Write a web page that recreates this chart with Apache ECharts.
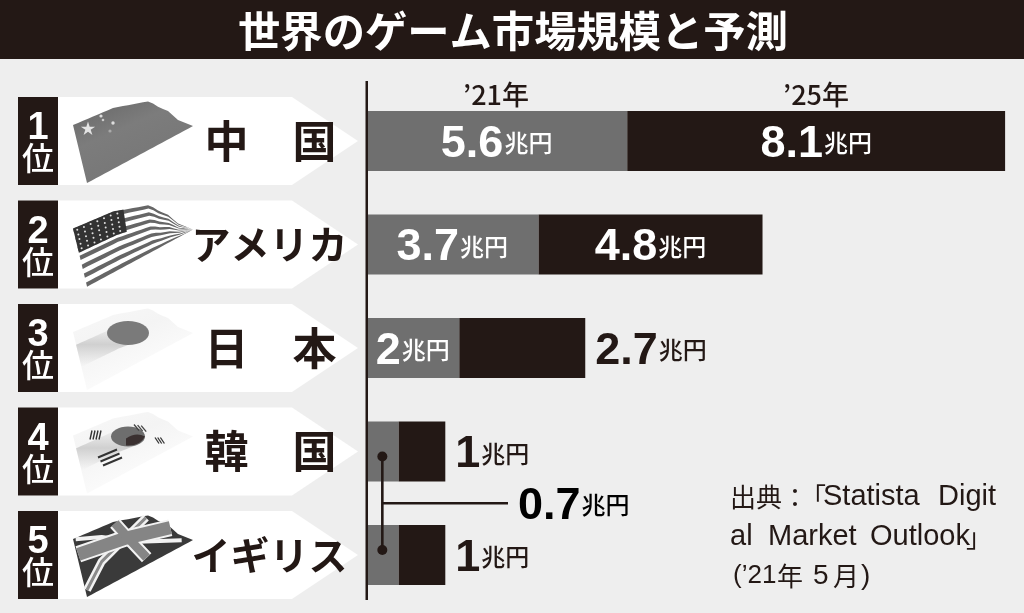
<!DOCTYPE html>
<html><head><meta charset="utf-8">
<style>html,body{margin:0;padding:0;background:#eeeeee}#c{width:1024px;height:613px}</style>
<script src="https://cdn.jsdelivr.net/npm/echarts@6/dist/echarts.min.js"></script>
</head><body><div id="c"></div>
<script>
const titleText = '世界のゲーム市場規模と予測';
const categories = ['中　国','アメリカ','日　本','韓　国','イギリス'];
const ranks = ['1','2','3','4','5'];
const flags = ['cn','us','jp','kr','uk'];
const values2021 = [5.6,3.7,2,0.7,0.7];
const values2025 = [8.1,4.8,2.7,1,1];
const yearLabels = ['’21年','’25年'];
const sharedLabelValue = 0.7;
const sourceTexts = ['出典：','「','Statista','Digit','al','Market','Outlook','」','(’21','年','5','月',')'];

const INK='#231815', GREY='#6f6f6f', BG='#eeeeee';
const JP='"Noto Sans CJK JP"', NUM='"Liberation Sans"';
const richBase = c => ({
  n:{fontFamily:NUM,fontWeight:'bold',fontSize:45,color:c,padding:[7,0,0,0]},
  u:{fontFamily:JP,fontWeight:500,fontSize:24,color:c,padding:[4,0,0,1]}
});
const labelFmt = v => `{n|${v}}{u|兆円}`;

const chart = echarts.init(document.getElementById('c'),null,{renderer:'canvas'});

const TOP=[[73,-16],[113,-33],[150,-40],[156,-35],[168,-30],[178,-21],[193,-15]];
const BOT=[[87,42],[193,-15]];
function pathAt(P,x){let i=0;while(i<P.length-2&&x>P[i+1][0])i++;
  const f=(x-P[i][0])/(P[i+1][0]-P[i][0]);return [x,P[i][1]+(P[i+1][1]-P[i][1])*f];}
function fm(u,v,cy){const t=pathAt(TOP,73+120*u),b=pathAt(BOT,87+106*u);
  return [t[0]*(1-v)+b[0]*v,t[1]*(1-v)+b[1]*v+cy];}
function poly(points,fill){return {type:'polygon',shape:{points},style:{fill}};}
function uvRect(u0,v0,u1,v1,fill,cy){const p=[];const n=24;
  for(let i=0;i<=n;i++)p.push(fm(u0+(u1-u0)*i/n,v0,cy));
  for(let i=n;i>=0;i--)p.push(fm(u0+(u1-u0)*i/n,v1,cy));
  return poly(p,fill);}
function grad(a,b,c){return new echarts.graphic.LinearGradient(0,0,0.3,1,[{offset:0,color:a},{offset:.5,color:b},{offset:1,color:c}]);}
function softBand(c){return new echarts.graphic.LinearGradient(0,0,0,1,[{offset:0,color:'rgba(214,214,214,0)'},{offset:.5,color:c},{offset:1,color:'rgba(214,214,214,0)'}]);}
function dot(x,y,r,fill){return {type:'circle',shape:{cx:x,cy:y,r},style:{fill}};}
function ell(x,y,rx,ry,fill){return {type:'ellipse',shape:{cx:x,cy:y,rx,ry},style:{fill}};}
function seg(x1,y1,x2,y2,w,c){return {type:'line',shape:{x1,y1,x2,y2},style:{stroke:c||INK,lineWidth:w}};}
function zline(pts,w,c,cy){
  return {type:'polyline',shape:{points:pts.map(p=>[65+p[0]/3,cy-50+p[1]/3])},style:{stroke:c,lineWidth:w,fill:null,lineCap:'butt',lineJoin:'round'}};}

function flagParts(kind,cy){
  const out=[];
  if(kind==='cn'){
    out.push(uvRect(0,0,1,1,grad('#666666','#7c7c7c','#777777'),cy));
    const sx=88,sy=cy-12,pts=[];
    for(let i=0;i<10;i++){const r=i%2?2.8:7.5,a=-Math.PI/2+i*Math.PI/5;pts.push([sx+r*Math.cos(a),sy+r*Math.sin(a)]);}
    out.push(poly(pts,'#e4e4e4'));
    out.push(dot(101,cy-25,1.6,'#ddd'),dot(113,cy-18,1.7,'#ddd'),dot(110,cy-10,1.6,'#aaa'),dot(103,cy-21,1.3,'#ccc'));
  } else if(kind==='us'){
    out.push(uvRect(0,0,1,1,'#ffffff',cy));
    for(let i=0;i<13;i+=2) out.push(uvRect(0,(i+.1)/13,1,(i+1.05)/13,'#666666',cy));
    out.push(uvRect(0,0,0.42,0.42,'#333333',cy));
    for(let a=0;a<7;a++)for(let b=0;b<5;b++){
      const q=fm(0.03+a*0.056,0.05+b*0.08,cy);out.push(dot(q[0],q[1],1,'#e0e0e0'));}
  } else if(kind==='jp'){
    out.push(uvRect(0,0,1,1,grad('#f8f8f8','#f4f4f4','#fcfcfc'),cy));
    out.push(uvRect(0,.22,.5,.6,softBand('#d0d0d0'),cy));
    out.push(ell(128,cy-15,21,12,'#7a7a7a'));
  } else if(kind==='kr'){
    out.push(uvRect(0,0,1,1,grad('#f8f8f8','#f4f4f4','#fcfcfc'),cy));
    out.push(uvRect(0,.22,.5,.6,softBand('#d0d0d0'),cy));
    out.push(ell(128,cy-15,17,10,'#6e6e6e'));
    out.push({type:'path',shape:{pathData:`M${126} ${cy-13} Q136 ${cy-20} 145 ${cy-15} Q140 ${cy-5} 126 ${cy-6} Z`},style:{fill:'#3a3030'}});
    [0,3,6,9].forEach(d=>out.push(seg(90+d,cy-12,92+d,cy-21,1.4,'#333')));
    [0,3,6].forEach(d=>out.push(seg(134+d*1.2,cy-27+d*.2,139+d*1.2,cy-21+d*.2,1.3,'#444')));
    [0,3,6].forEach(d=>out.push(seg(155+d*.9,cy-14,159+d*.9,cy-8,1.3,'#333')));
    [0,5,10].forEach(d=>out.push(seg(98+d*.5,cy+6+d*.8,117+d*.5,cy-2+d*.8,2,'#333')));
  } else {
    out.push(uvRect(0,0,1,1,'#3a3a3a',cy));
    const A=[[243,38],[175,105],[110,170],[66,255]];
    const B=[[32,103],[110,96],[220,110],[350,106]];
    const arm1=[[40,148],[180,100],[316,68]];
    const arm2=[[150,55],[195,105],[245,158]];
    out.push(zline(A,8,'#f2f2f2',cy),zline(A,3,'#8a8a8a',cy));
    out.push(zline(B,4,'#f2f2f2',cy));
    out.push(zline(arm1,17,'#f2f2f2',cy),zline(arm2,13,'#f2f2f2',cy));
    out.push(zline(arm1,13,'#858585',cy),zline(arm2,9,'#858585',cy));
  }
  return out;
}

function renderRow(params,api){
  const i=api.value(0), cy=api.coord([0,i])[1], h=44;
  const mid={align:'center',verticalAlign:'middle',textAlign:'center',textVerticalAlign:'middle'};
  const kids=[
    poly([[18,cy-h],[292,cy-h],[358,cy],[292,cy+h],[18,cy+h]],'#ffffff'),
    {type:'rect',shape:{x:18,y:cy-h,width:40,height:2*h},style:{fill:INK}},
    {type:'text',style:Object.assign({text:ranks[i],x:38,y:cy-12,fill:'#fff',font:`bold 38px ${NUM}`},mid)},
    {type:'text',style:Object.assign({text:'位',x:38,y:cy+17,fill:'#fff',font:`500 32px ${JP}`},mid)}
  ].concat(flagParts(flags[i],cy));
  const name=categories[i], size=name.length===4?39:44;
  kids.push({type:'text',style:Object.assign({text:name,x:name.length===4?269.5:270.5,y:cy,fill:INK,font:`bold ${size}px ${JP}`},mid)});
  return {type:'group',children:kids};
}

function renderBracket(params,api){
  const a=api.coord([sharedLabelValue/2,3]), b=api.coord([sharedLabelValue/2,4]);
  const mid=(a[1]+b[1])/2, x=a[0], ya=a[1]+5, yb=b[1]-5;
  return {type:'group',children:[
    seg(x,ya,x,yb,2.6), seg(x,mid,508,mid,2.6),
    dot(x,ya,5,INK), dot(x,yb,5,INK),
    {type:'text',style:{rich:richBase(INK),text:labelFmt(sharedLabelValue),x:518,y:mid,align:'left',verticalAlign:'middle',textAlign:'left',textVerticalAlign:'middle'}}
  ]};
}

const outside=[false,false,true,true,true];
const centerStyle={textAlign:'center',textVerticalAlign:'middle',align:'center',verticalAlign:'middle'};
const graphicEls=[
  {type:'rect',shape:{x:0,y:0,width:1024,height:59},style:{fill:INK}},
  {type:'text',x:513,y:31,style:Object.assign({text:titleText,fill:'#fff',font:`bold 42.3px ${JP}`},centerStyle)},
  {type:'text',x:496,y:95,style:Object.assign({text:yearLabels[0],fill:INK,font:`500 27px ${JP}`},centerStyle)},
  {type:'text',x:816,y:95,style:Object.assign({text:yearLabels[1],fill:INK,font:`500 27px ${JP}`},centerStyle)},
  {type:'rect',shape:{x:365.5,y:81,width:2.5,height:519},style:{fill:INK},z:20}
];
const cjkFont=`400 26px ${JP}`, latFont=`400 29px ${NUM}`;
const srcPos=[[730,497,cjkFont],[800,497,cjkFont],[823,497,latFont],[938,497,latFont],[730,537,latFont],[768,537,latFont],[870,537,latFont],[966,537,cjkFont],
              [733,576,`400 26px ${NUM}`],[777,576,cjkFont],[813,576,`400 28px ${NUM}`],[833,576,cjkFont],[861,576,`400 28px ${NUM}`]];
sourceTexts.forEach((t,k)=>{const p=srcPos[k];
  graphicEls.push({type:'text',x:p[0],y:p[1],style:{text:t,fill:INK,font:p[2],textAlign:'left',textVerticalAlign:'middle',align:'left',verticalAlign:'middle'}});
});

chart.setOption({
  animation:false,
  backgroundColor:BG,
  grid:{left:366,top:89.25,width:653.1,height:517.5,containLabel:false},
  xAxis:{type:'value',min:0,max:14,show:false},
  yAxis:{type:'category',data:categories,inverse:true,show:false},
  graphic:{elements:graphicEls},
  series:[
    {type:'custom',name:'rows',renderItem:renderRow,data:categories.map((c,i)=>[i]),encode:{y:0},clip:false,silent:true,z:1},
    {type:'bar',name:yearLabels[0],stack:'t',barWidth:60,itemStyle:{color:GREY},z:3,
     data:values2021.map((v,i)=>({value:v,label:{show:i<3,position:'inside',formatter:labelFmt(v),rich:richBase('#fff')}}))},
    {type:'bar',name:yearLabels[1],stack:'t',barWidth:60,itemStyle:{color:INK},z:3,
     data:values2025.map((v,i)=>({value:v,label:{show:true,position:outside[i]?'right':'inside',distance:outside[i]?10:0,formatter:labelFmt(v),rich:richBase(outside[i]?INK:'#fff')}}))},
    {type:'custom',name:'shared',renderItem:renderBracket,data:[[0]],encode:{y:0},clip:false,silent:true,z:6}
  ]
});
</script></body></html>
